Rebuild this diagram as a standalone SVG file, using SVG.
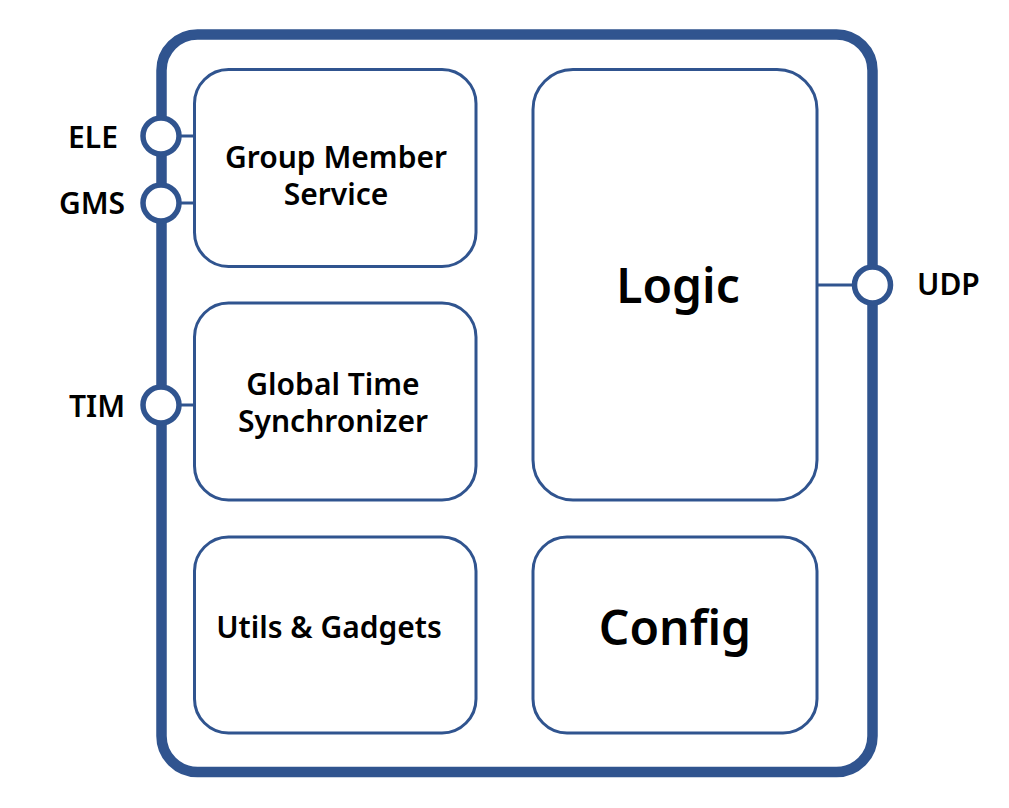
<svg xmlns="http://www.w3.org/2000/svg" width="1009" height="808" viewBox="0 0 1009 808">
<style>
.frame{fill:#fff;stroke:#30548F;stroke-width:10.5}
.box{fill:#fff;stroke:#30548F;stroke-width:3}
.port{fill:#fff;stroke:#30548F;stroke-width:5.5}
.conn{stroke:#30548F;stroke-width:3;fill:none}
text{font-family:"Noto Sans","Liberation Sans",sans-serif;font-weight:600;fill:#000}
.m{font-size:30px;text-anchor:middle}
.p{font-size:30px}
.big{font-size:48px;text-anchor:middle}
</style>
<rect width="1009" height="808" fill="#fff"/>
<g id="frame"><rect class="frame" x="161.5" y="34.5" width="711" height="737.5" rx="36"/></g>
<g id="connectors">
<line class="conn" x1="179" y1="136" x2="195" y2="136"/>
<line class="conn" x1="179" y1="203" x2="195" y2="203"/>
<line class="conn" x1="179" y1="405" x2="195" y2="405"/>
<line class="conn" x1="817" y1="285" x2="854" y2="285"/>
</g>
<g id="gms">
<rect class="box" x="194.5" y="69.5" width="281.5" height="197" rx="34"/>
<text class="m" x="336" y="168">Group Member</text>
<text class="m" x="336" y="205">Service</text>
</g>
<g id="gts">
<rect class="box" x="194.5" y="303" width="281.5" height="197" rx="34"/>
<text class="m" x="333" y="395">Global Time</text>
<text class="m" x="333" y="432">Synchronizer</text>
</g>
<g id="utils">
<rect class="box" x="194.5" y="537" width="281.5" height="196" rx="34"/>
<text class="m" x="329" y="638">Utils &amp; Gadgets</text>
</g>
<g id="logic">
<rect class="box" x="533" y="69.5" width="284" height="430.5" rx="40"/>
<text class="big" x="678" y="303">Logic</text>
</g>
<g id="config">
<rect class="box" x="533" y="537" width="284" height="196" rx="34"/>
<text class="big" x="675" y="645">Config</text>
</g>
<g id="port-ele"><circle class="port" cx="161" cy="136" r="18"/><text class="m" x="93" y="148">ELE</text></g>
<g id="port-gms"><circle class="port" cx="161" cy="203" r="18"/><text class="m" x="92" y="214">GMS</text></g>
<g id="port-tim"><circle class="port" cx="161" cy="405" r="18"/><text class="m" x="97" y="417">TIM</text></g>
<g id="port-udp"><circle class="port" cx="872.5" cy="285" r="18"/><text class="p" x="917" y="295">UDP</text></g>
</svg>
